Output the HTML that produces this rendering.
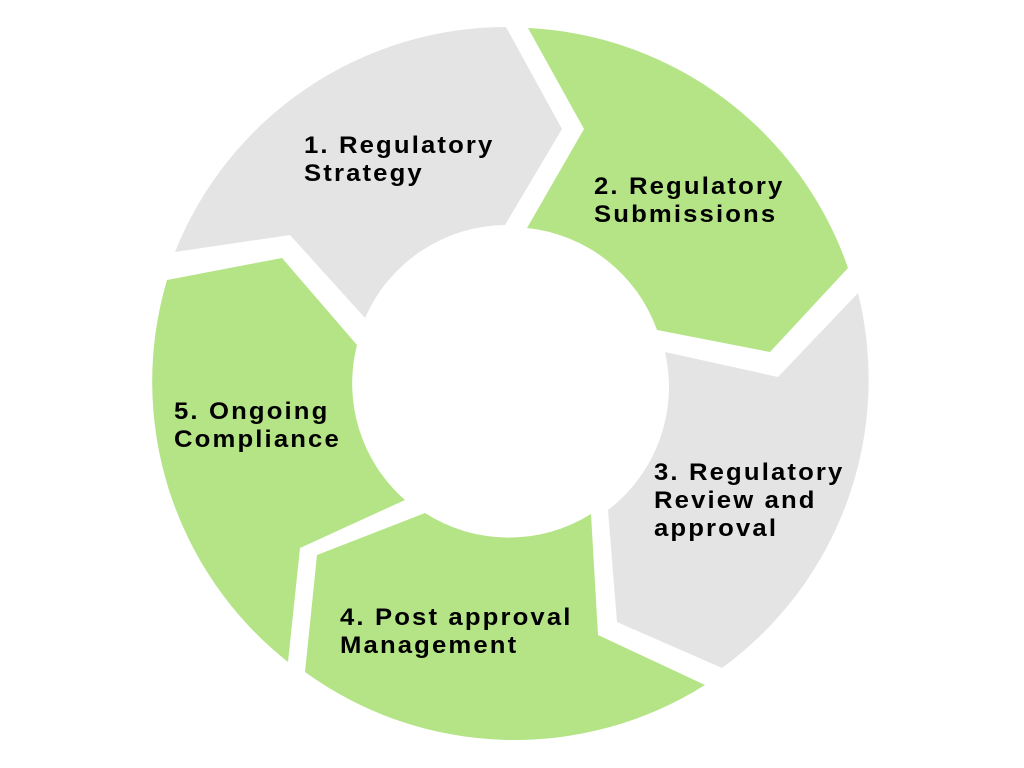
<!DOCTYPE html>
<html><head><meta charset="utf-8"><style>
html,body{margin:0;padding:0;background:#fff;width:1024px;height:768px;overflow:hidden}
text{font-family:"Liberation Sans",sans-serif;font-weight:bold;font-size:24px;letter-spacing:2px;fill:#000}
</style></head><body>
<svg width="1024" height="768" viewBox="0 0 1024 768">
<g stroke="none">
<path fill="#e4e4e4" d="M175,252 A357,357 0 0 1 506,27 L562,129 L505,225 A155,155 0 0 0 365,318 L290,235 Z"/>
<path fill="#b5e487" d="M528,28 A357,357 0 0 1 848,268 L770,352 L657,330 A155,155 0 0 0 527,228 L584,129 Z"/>
<path fill="#e4e4e4" d="M858,293 A357,357 0 0 1 722,668 L617,622 L608,510 A155,155 0 0 0 665,352 L778,377 Z"/>
<path fill="#b5e487" d="M705,685 A357,357 0 0 1 305,672 L317,555 L425,513 A155,155 0 0 0 591,514 L598,635 Z"/>
<path fill="#b5e487" d="M288,662 A357,357 0 0 1 167,280 L282,258 L357,345 A155,155 0 0 0 405,500 L300,548 Z"/>
</g>
<g transform="translate(304,0) scale(1.07,1)"><text x="0" y="153">1. Regulatory</text><text x="0" y="181">Strategy</text></g>
<g transform="translate(594,0) scale(1.07,1)"><text x="0" y="194">2. Regulatory</text><text x="0" y="222">Submissions</text></g>
<g transform="translate(654,0) scale(1.07,1)"><text x="0" y="480">3. Regulatory</text><text x="0" y="508">Review and</text><text x="0" y="536">approval</text></g>
<g transform="translate(340,0) scale(1.07,1)"><text x="0" y="625">4. Post approval</text><text x="0" y="653">Management</text></g>
<g transform="translate(174,0) scale(1.07,1)"><text x="0" y="419">5. Ongoing</text><text x="0" y="447">Compliance</text></g>
</svg>
</body></html>
